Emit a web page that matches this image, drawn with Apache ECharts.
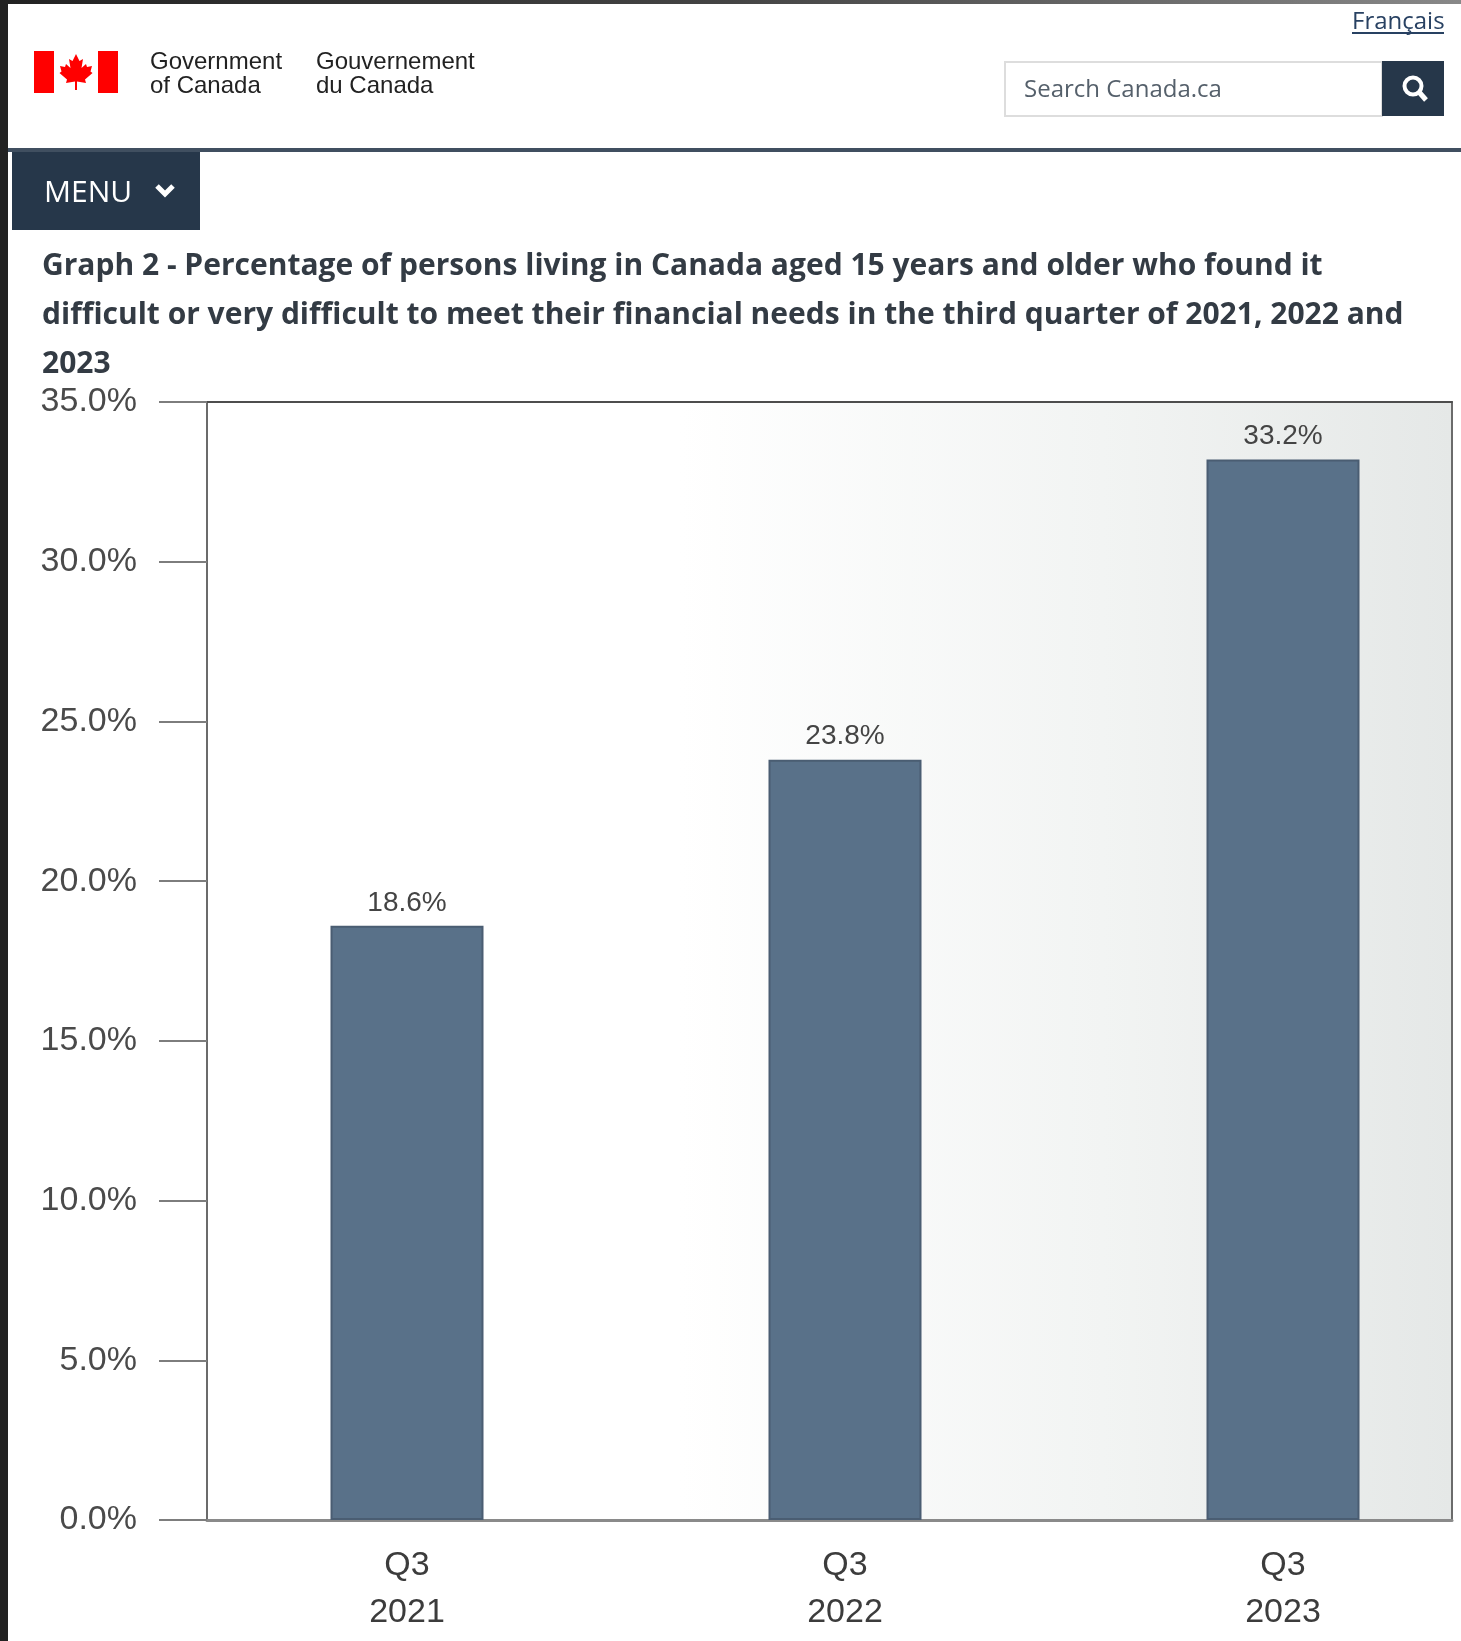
<!DOCTYPE html>
<html><head><meta charset="utf-8">
<style>html,body{margin:0;padding:0;background:#fff}#c{width:1461px;height:1641px}</style>
<script src="https://cdn.jsdelivr.net/npm/echarts@6/dist/echarts.min.js"></script>
</head><body><div id="c"></div>
<script>
const categories = ['Q3\n2021', 'Q3\n2022', 'Q3\n2023'];
const values = [18.6, 23.8, 33.2];
const titleLines = [
  'Graph 2 - Percentage of persons living in Canada aged 15 years and older who found it',
  'difficult or very difficult to meet their financial needs in the third quarter of 2021, 2022 and',
  '2023'
];
const pct = v => v.toFixed(1) + '%';
const AXIS_FONT = '"Liberation Sans"', UI_FONT = '"Open Sans"';
const NAVY = '#26374a';
const leaf = [[0,-18],[3.5,-11],[7,-13],[5.5,-4],[10,-8],[11,-5],[16,-6],[14.5,-0.5],[16.5,1],[9,7.5],[10,11],[1,9.5],[1,18],[-1,18],[-1,9.5],[-10,11],[-9,7.5],[-16.5,1],[-14.5,-0.5],[-16,-6],[-11,-5],[-10,-8],[-5.5,-4],[-7,-13],[-3.5,-11]];
const txt = (x, y, text, font, size, fill, extra) => ({
  type: 'text', x, y, silent: true,
  style: Object.assign({ text, font: size + 'px ' + font, fill, textVerticalAlign: 'middle' }, extra || {})
});
const rect = (x, y, width, height, fill, extra) => ({
  type: 'rect', silent: true, shape: { x, y, width, height }, style: Object.assign({ fill }, extra || {})
});
const chart = echarts.init(document.getElementById('c'), null, { renderer: 'canvas' });
chart.setOption({
  backgroundColor: '#ffffff',
  animation: false,
  title: {
    text: titleLines.join('\n'), left: 42, top: 242, padding: 0,
    textStyle: { fontFamily: UI_FONT, fontWeight: 'bold', fontSize: 30, lineHeight: 49, color: '#333b44' }
  },
  grid: [
    { left: 188, width: 1314, top: 402, height: 1118, outerBoundsMode: 'none' },
    { left: 207, width: 1245, top: 402, height: 1118, show: true, borderWidth: 0, outerBoundsMode: 'none',
      backgroundColor: { type: 'linear', x: 0, y: 0, x2: 1, y2: 0, colorStops: [
        { offset: 0, color: '#ffffff' }, { offset: 0.38, color: '#ffffff' },
        { offset: 0.72, color: '#f2f4f3' }, { offset: 1, color: '#e5e8e7' } ] } }
  ],
  xAxis: [
    { type: 'category', gridIndex: 0, data: categories,
      axisLine: { show: false }, axisTick: { show: false },
      axisLabel: { fontFamily: AXIS_FONT, fontSize: 34, lineHeight: 47, color: '#3c3c3c', margin: 22 } },
    { type: 'value', gridIndex: 1, min: 0, max: 1, position: 'top',
      axisLine: { show: true, onZero: false, lineStyle: { color: '#4d4d4d', width: 2 } }, axisTick: { show: false },
      axisLabel: { show: false }, splitLine: { show: false } },
    { type: 'value', gridIndex: 1, min: 0, max: 1, position: 'bottom',
      axisLine: { show: true, onZero: false, lineStyle: { color: '#8a8a8a', width: 3 } }, axisTick: { show: false },
      axisLabel: { show: false }, splitLine: { show: false } }
  ],
  yAxis: [
    { type: 'value', gridIndex: 0, min: 0, max: 35, interval: 5, show: false },
    { type: 'value', gridIndex: 1, min: 0, max: 35, interval: 5, position: 'left',
      axisLine: { show: true, onZero: false, lineStyle: { color: '#6b6b6b', width: 2 } },
      axisTick: { show: true, length: 48, lineStyle: { color: '#7d7d7d', width: 2 } },
      axisLabel: { formatter: pct, fontFamily: AXIS_FONT, fontSize: 34, color: '#4a4a4a', margin: 70 },
      splitLine: { show: false } },
    { type: 'value', gridIndex: 1, min: 0, max: 35, interval: 5, position: 'right',
      axisLine: { show: true, onZero: false, lineStyle: { color: '#6b6b6b', width: 2 } }, axisTick: { show: false },
      axisLabel: { show: false }, splitLine: { show: false } }
  ],
  series: [{
    type: 'bar', xAxisIndex: 0, yAxisIndex: 0, data: values, barWidth: 153, z: 5,
    itemStyle: { color: '#597189', borderColor: '#4a5d72', borderWidth: 2 },
    label: { show: true, position: 'top', distance: 9, formatter: p => pct(p.value),
      fontFamily: AXIS_FONT, fontSize: 28, color: '#444444' }
  }],
  graphic: [
    rect(0, 0, 8, 1641, '#222222'),
    rect(0, 0, 1461, 4, { type: 'linear', x: 0, y: 0, x2: 1, y2: 0, colorStops: [
      { offset: 0, color: '#222222' }, { offset: 0.5, color: '#444444' }, { offset: 1, color: '#888888' } ] }),
    rect(8, 148, 1453, 4, '#404f60'),
    rect(34, 51, 20, 42, '#ff0000'),
    rect(98, 51, 20, 42, '#ff0000'),
    { type: 'polygon', silent: true, x: 76, y: 72, shape: { points: leaf }, style: { fill: '#ff0000' } },
    txt(150, 62, 'Government', AXIS_FONT, 24, '#222222'),
    txt(150, 86, 'of Canada', AXIS_FONT, 24, '#222222'),
    txt(316, 62, 'Gouvernement', AXIS_FONT, 24, '#222222'),
    txt(316, 86, 'du Canada', AXIS_FONT, 24, '#222222'),
    txt(1352, 22, 'Français', UI_FONT, 24, '#284162'),
    rect(1352, 32, 92, 2, '#284162'),
    rect(1005, 62, 377, 54, '#ffffff', { stroke: '#dddddd', lineWidth: 2 }),
    txt(1024, 90, 'Search Canada.ca', UI_FONT, 24, '#55606b'),
    rect(1382, 61, 62, 55, NAVY),
    { type: 'circle', silent: true, shape: { cx: 1413, cy: 86, r: 8.5 }, style: { fill: 'none', stroke: '#ffffff', lineWidth: 4 } },
    { type: 'line', silent: true, shape: { x1: 1419, y1: 92, x2: 1426, y2: 100 }, style: { stroke: '#ffffff', lineWidth: 5 } },
    rect(12, 152, 188, 78, NAVY),
    txt(44, 193, 'MENU', UI_FONT, 30, '#ffffff'),
    { type: 'polyline', silent: true, shape: { points: [[157, 186], [165, 194], [173, 186]] }, style: { fill: 'none', stroke: '#ffffff', lineWidth: 5 } }
  ]
});
</script></body></html>
